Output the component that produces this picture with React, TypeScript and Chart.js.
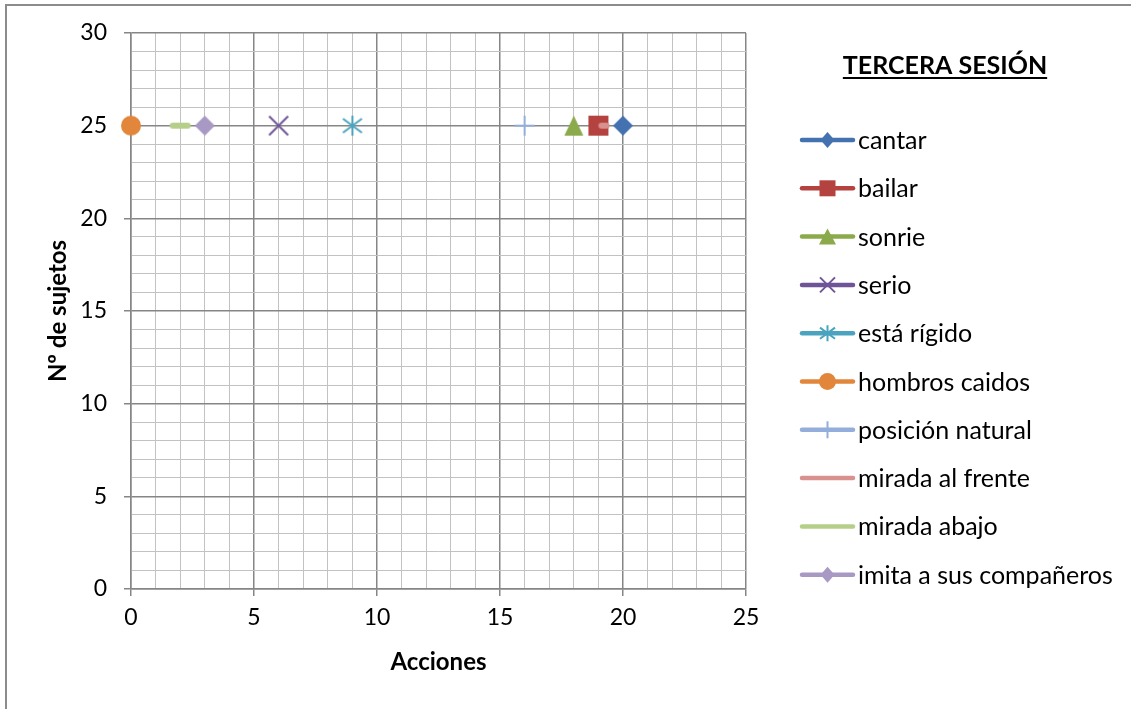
import React, { useEffect, useRef } from 'react';
import { Chart, registerables } from 'chart.js';

Chart.register(...registerables);

const chartTitle = 'TERCERA SESIÓN';
const xAxisTitle = 'Acciones';
const yAxisTitle = 'Nº de sujetos';
const seriesNames = ['cantar', 'bailar', 'sonrie', 'serio', 'está rígido', 'hombros caidos', 'posición natural', 'mirada al frente', 'mirada abajo', 'imita a sus compañeros'];
const accionesValues = [20, 19, 18, 6, 9, 0, 16, 19, 2, 3];
const sujetosValues = [25, 25, 25, 25, 25, 25, 25, 25, 25, 25];
const seriesColors = ['#4472B0', '#B4433F', '#8BAA4B', '#6F5597', '#4AA4BF', '#E2863B', '#93AEDA', '#D9918F', '#B5CF8A', '#A899C4'];
const markerKinds = ['diamond', 'square', 'triangle', 'x', 'star', 'circle', 'plus', 'dashRight', 'dash', 'diamond'];
const xTickValues = [0, 5, 10, 15, 20, 25];
const yTickValues = [0, 5, 10, 15, 20, 25, 30];

const FONT = 'Lato';

function drawMarker(ctx: CanvasRenderingContext2D, kind: string, color: string, cx: number, cy: number, w: number, h: number, legend = false) {
  const hw = w / 2;
  const hh = h / 2;
  ctx.save();
  ctx.fillStyle = color;
  ctx.strokeStyle = color;
  ctx.lineCap = 'butt';
  switch (kind) {
    case 'diamond':
      ctx.beginPath();
      ctx.moveTo(cx, cy - hh);
      ctx.lineTo(cx + hw, cy);
      ctx.lineTo(cx, cy + hh);
      ctx.lineTo(cx - hw, cy);
      ctx.closePath();
      ctx.fill();
      break;
    case 'square':
      ctx.fillRect(cx - hw, cy - hh, w, h);
      break;
    case 'triangle':
      ctx.beginPath();
      ctx.moveTo(cx, cy - hh);
      ctx.lineTo(cx + hw, cy + hh);
      ctx.lineTo(cx - hw, cy + hh);
      ctx.closePath();
      ctx.fill();
      break;
    case 'circle':
      ctx.beginPath();
      ctx.ellipse(cx, cy, hw, hh, 0, 0, Math.PI * 2);
      ctx.fill();
      break;
    case 'x':
      ctx.lineWidth = 2;
      ctx.beginPath();
      ctx.moveTo(cx - hw, cy - hh);
      ctx.lineTo(cx + hw, cy + hh);
      ctx.moveTo(cx - hw, cy + hh);
      ctx.lineTo(cx + hw, cy - hh);
      ctx.stroke();
      break;
    case 'star':
      ctx.lineWidth = 2;
      ctx.beginPath();
      ctx.moveTo(cx, cy - hh);
      ctx.lineTo(cx, cy + hh);
      ctx.moveTo(cx - hw, cy - hh * 0.7);
      ctx.lineTo(cx + hw, cy + hh * 0.7);
      ctx.moveTo(cx - hw, cy + hh * 0.7);
      ctx.lineTo(cx + hw, cy - hh * 0.7);
      ctx.stroke();
      break;
    case 'plus':
      ctx.lineWidth = 2;
      ctx.beginPath();
      ctx.moveTo(cx, cy - hh);
      ctx.lineTo(cx, cy + hh);
      if (!legend) {
        ctx.moveTo(cx - hw, cy);
        ctx.lineTo(cx + hw, cy);
      }
      ctx.stroke();
      break;
    case 'dash':
      ctx.lineWidth = h;
      ctx.lineCap = 'round';
      ctx.beginPath();
      ctx.moveTo(cx - hw + h / 2, cy);
      ctx.lineTo(cx + hw - h / 2, cy);
      ctx.stroke();
      break;
    case 'dashRight':
      ctx.lineWidth = h;
      ctx.lineCap = 'round';
      ctx.beginPath();
      ctx.moveTo(cx + h / 2, cy);
      ctx.lineTo(cx + hw - h / 2, cy);
      ctx.stroke();
      break;
    default:
      break;
  }
  ctx.restore();
}

const plotSizes: Record<string, [number, number]> = {
  diamond: [20, 20],
  square: [20, 20],
  triangle: [19, 20],
  circle: [20, 20],
  x: [19, 19],
  star: [19, 20],
  plus: [20, 20],
  dash: [21, 6],
  dashRight: [22, 6],
};

const legendSizes: Record<string, [number, number]> = {
  diamond: [14, 16],
  square: [16, 16],
  triangle: [17, 16],
  circle: [17, 17],
  x: [15, 15],
  star: [15, 16],
  plus: [0, 17],
  dash: [0, 0],
  dashRight: [0, 0],
};

function makeMarkerImage(kind: string, color: string): HTMLCanvasElement {
  const [w, h] = plotSizes[kind];
  const c = document.createElement('canvas');
  c.width = 26;
  c.height = 26;
  const ctx = c.getContext('2d')!;
  drawMarker(ctx, kind, color, 13, 13, w, h);
  return c;
}

const isMajor = (c: any) => c.tick && Math.round(c.tick.value) % 5 === 0;

export default function App() {
  const canvasRef = useRef<HTMLCanvasElement | null>(null);

  useEffect(() => {
    const canvas = canvasRef.current;
    if (!canvas) return;

    const images = markerKinds.map((k, i) => makeMarkerImage(k, seriesColors[i]));

    const overlayPlugin = {
      id: 'excelOverlay',
      afterDraw(chart: any) {
        const ctx: CanvasRenderingContext2D = chart.ctx;
        ctx.save();
        // Title
        ctx.font = `bold 25px ${FONT}`;
        ctx.fillStyle = '#000';
        ctx.textAlign = 'center';
        ctx.textBaseline = 'alphabetic';
        const titleX = 945;
        const titleBase = 74;
        ctx.fillText(chartTitle, titleX, titleBase);
        const tw = ctx.measureText(chartTitle).width;
        ctx.fillRect(titleX - tw / 2, titleBase + 3, tw, 2);

        // Legend
        const startY = 140;
        const step = 48.3;
        chart.data.datasets.forEach((ds: any, i: number) => {
          const y = startY + i * step;
          const color = seriesColors[i];
          ctx.strokeStyle = color;
          ctx.lineWidth = 4.5;
          ctx.lineCap = 'round';
          ctx.beginPath();
          ctx.moveTo(802, y);
          ctx.lineTo(853, y);
          ctx.stroke();
          const kind = markerKinds[i];
          const [w, h] = legendSizes[kind];
          if (w > 0 || h > 0) drawMarker(ctx, kind, color, 827.5, y, w, h, true);
          ctx.font = `25px ${FONT}`;
          ctx.fillStyle = '#000';
          ctx.textAlign = 'left';
          ctx.textBaseline = 'middle';
          ctx.fillText(ds.label, 858, y + 1);
        });
        ctx.restore();
      },
    };

    const chart = new Chart(canvas, {
      type: 'scatter',
      data: {
        datasets: seriesNames.map((name, i) => ({
          label: name,
          data: [{ x: accionesValues[i], y: sujetosValues[i] }],
          pointStyle: images[i] as any,
          pointRadius: 10,
          pointHoverRadius: 10,
          backgroundColor: seriesColors[i],
          borderColor: seriesColors[i],
          showLine: false,
          clip: false as any,
          order: seriesNames.length - i,
        })),
      },
      options: {
        responsive: false,
        animation: false,
        devicePixelRatio: 1,
        layout: { padding: { left: 0, top: 33, right: 385, bottom: 0 } },
        plugins: {
          legend: { display: false },
          tooltip: { enabled: false },
          title: { display: false },
        },
        scales: {
          x: {
            type: 'linear',
            position: 'bottom',
            min: 0,
            max: 25,
            ticks: {
              stepSize: 1,
              autoSkip: false,
              maxRotation: 0,
              padding: 8,
              color: '#000',
              font: { family: FONT, size: 23 },
              callback: (v: any) => (xTickValues.includes(Number(v)) ? String(v) : ''),
            },
            grid: {
              color: (c: any) => (isMajor(c) ? '#868686' : '#C2C2C2'),
              lineWidth: (c: any) => (isMajor(c) ? 1.5 : 1),
              tickColor: (c: any) => (isMajor(c) ? '#868686' : 'rgba(0,0,0,0)'),
              tickLength: 7,
              drawTicks: true,
            },
            border: { color: '#868686', width: 1.5 },
            title: {
              display: true,
              text: xAxisTitle,
              color: '#000',
              font: { family: FONT, size: 24, weight: 'bold' },
              padding: { top: 0, bottom: 32 },
            },
            afterFit: (s: any) => {
              s.height = 120;
            },
          },
          y: {
            type: 'linear',
            position: 'left',
            min: 0,
            max: 30,
            ticks: {
              stepSize: 1,
              autoSkip: false,
              padding: 17,
              color: '#000',
              font: { family: FONT, size: 23 },
              callback: (v: any) => (yTickValues.includes(Number(v)) ? String(v) : ''),
            },
            grid: {
              color: (c: any) => (isMajor(c) ? '#868686' : '#C2C2C2'),
              lineWidth: (c: any) => (isMajor(c) ? 1.5 : 1),
              tickColor: (c: any) => (isMajor(c) ? '#868686' : 'rgba(0,0,0,0)'),
              tickLength: 7,
              drawTicks: true,
            },
            border: { color: '#868686', width: 1.5 },
            title: {
              display: true,
              text: yAxisTitle,
              color: '#000',
              font: { family: FONT, size: 24, weight: 'bold' },
              padding: { top: 44, bottom: 0 },
            },
            afterFit: (s: any) => {
              s.width = 131;
            },
          },
        },
      },
      plugins: [overlayPlugin],
    });

    return () => {
      chart.destroy();
    };
  }, []);

  return (
    <>
      <div
        style={{
          position: 'fixed',
          left: 5,
          top: 4,
          right: 0,
          bottom: 0,
          borderLeft: '2px solid #8C8C8C',
          borderTop: '2px solid #8C8C8C',
          background: '#fff',
        }}
      />
      <canvas
        ref={canvasRef}
        width={1131}
        height={709}
        style={{ position: 'fixed', left: 0, top: 0, width: 1131, height: 709 }}
      />
    </>
  );
}
